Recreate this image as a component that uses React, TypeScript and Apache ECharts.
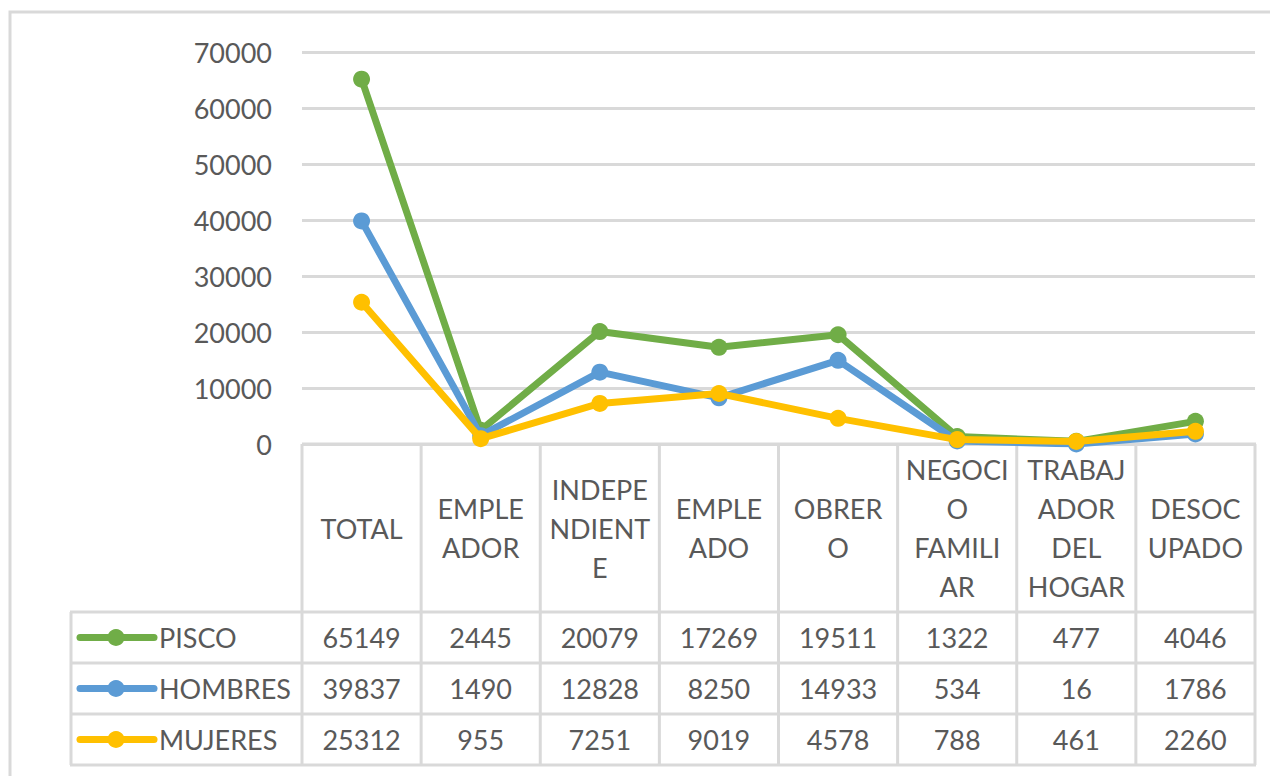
import React, { useEffect, useRef } from "react";
import * as echarts from "echarts";

const categories = [
  "TOTAL",
  "EMPLE\nADOR",
  "INDEPE\nNDIENT\nE",
  "EMPLE\nADO",
  "OBRER\nO",
  "NEGOCI\nO\nFAMILI\nAR",
  "TRABAJ\nADOR\nDEL\nHOGAR",
  "DESOC\nUPADO",
];
const seriesNames = ["PISCO", "HOMBRES", "MUJERES"];
const pisco = [65149, 2445, 20079, 17269, 19511, 1322, 477, 4046];
const hombres = [39837, 1490, 12828, 8250, 14933, 534, 16, 1786];
const mujeres = [25312, 955, 7251, 9019, 4578, 788, 461, 2260];
const yMin = 0;
const yMax = 70000;
const yInterval = 10000;

const COLORS = ["#70AD47", "#5B9BD5", "#FFC000"];
const GRID_COLOR = "#D9D9D9";
const TEXT_COLOR = "#595959";
const FONT = "Lato, 'Liberation Sans', sans-serif";
const FS = 27;

export default function App() {
  const ref = useRef<HTMLDivElement>(null);
  useEffect(() => {
    if (!ref.current) return;
    const chart = echarts.init(ref.current, undefined, { renderer: "svg" });
    const values = [pisco, hombres, mujeres];
    const option: any = {
      animation: false,
      backgroundColor: "#ffffff",
      grid: { left: 302, right: 15, top: 52, bottom: 332, containLabel: false },
      xAxis: {
        type: "category",
        data: categories,
        boundaryGap: true,
        axisLine: { show: false },
        axisTick: { show: false },
        axisLabel: { show: false },
      },
      yAxis: {
        type: "value",
        min: yMin,
        max: yMax,
        interval: yInterval,
        axisLine: { show: false },
        axisTick: { show: false },
        axisLabel: {
          color: TEXT_COLOR,
          fontSize: FS,
          fontFamily: FONT,
          margin: 30,
          formatter: (v: number) => String(v),
        },
        splitLine: { lineStyle: { color: GRID_COLOR, width: 3 } },
      },
      series: seriesNames.map((name, i) => ({
        name,
        type: "line",
        data: values[i],
        symbol: "circle",
        symbolSize: 17,
        z: 3 + i,
        lineStyle: { color: COLORS[i], width: 7 },
        itemStyle: { color: COLORS[i] },
      })),
    };
    chart.setOption(option);

    const xs = categories.map((_, i) => chart.convertToPixel({ xAxisIndex: 0 }, i) as number);
    const band = xs[1] - xs[0];
    const left = xs[0] - band / 2;
    const right = xs[xs.length - 1] + band / 2;
    const top = chart.convertToPixel({ yAxisIndex: 0 }, 0) as number;
    const headerBottom = top + 168;
    const rowH = 51;
    const tableLeft = 71;
    const bottom = headerBottom + rowH * seriesNames.length;
    const lw = 3;

    const g: any[] = [];
    g.push({
      type: "rect",
      shape: { x: 10, y: 12, width: 1300, height: 820 },
      style: { fill: "none", stroke: GRID_COLOR, lineWidth: 3 },
      z: 0,
    });
    g.push({ type: "line", shape: { x1: left, y1: top, x2: right + 1, y2: top }, style: { stroke: GRID_COLOR, lineWidth: lw }, z: 1 });
    for (let r = 0; r <= seriesNames.length; r++) {
      const y = headerBottom + r * rowH;
      g.push({ type: "line", shape: { x1: tableLeft - 1, y1: y, x2: right + 1, y2: y }, style: { stroke: GRID_COLOR, lineWidth: lw }, z: 1 });
    }
    g.push({ type: "line", shape: { x1: tableLeft, y1: headerBottom, x2: tableLeft, y2: bottom }, style: { stroke: GRID_COLOR, lineWidth: lw }, z: 1 });
    for (let c = 0; c <= categories.length; c++) {
      const x = left + c * band;
      g.push({ type: "line", shape: { x1: x, y1: top, x2: x, y2: bottom }, style: { stroke: GRID_COLOR, lineWidth: lw }, z: 1 });
    }
    categories.forEach((c, i) => {
      g.push({
        type: "text",
        z: 1,
        style: {
          text: c,
          x: xs[i],
          y: (top + headerBottom) / 2,
          align: "center",
          verticalAlign: "middle",
          fill: TEXT_COLOR,
          fontSize: FS,
          fontFamily: FONT,
          lineHeight: 39,
        },
      });
    });
    seriesNames.forEach((name, r) => {
      const cy = headerBottom + r * rowH + rowH / 2;
      g.push({ type: "line", z: 1, shape: { x1: 80, y1: cy, x2: 154, y2: cy }, style: { stroke: COLORS[r], lineWidth: 7, lineCap: "round" } });
      g.push({ type: "circle", z: 1, shape: { cx: 116, cy, r: 8.5 }, style: { fill: COLORS[r] } });
      g.push({
        type: "text",
        z: 1,
        style: { text: name, x: 159, y: cy, align: "left", verticalAlign: "middle", fill: TEXT_COLOR, fontSize: FS, fontFamily: FONT },
      });
      values[r].forEach((v, i) => {
        g.push({
          type: "text",
          z: 1,
          style: { text: String(v), x: xs[i], y: cy, align: "center", verticalAlign: "middle", fill: TEXT_COLOR, fontSize: FS, fontFamily: FONT },
        });
      });
    });
    chart.setOption({ graphic: g });

    return () => chart.dispose();
  }, []);
  return (
    <div
      ref={ref}
      style={{ position: "fixed", left: 0, top: 0, width: 1270, height: 776, background: "#fff" }}
    />
  );
}
